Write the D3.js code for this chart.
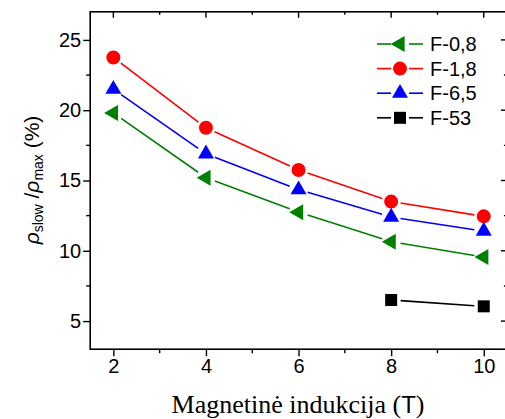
<!DOCTYPE html>
<html>
<head>
<meta charset="utf-8">
<script src="https://cdn.jsdelivr.net/npm/d3@7"></script>
<style>
  html, body { margin: 0; padding: 0; background: #fff; }
  svg { display: block; }
</style>
</head>
<body>
<svg id="chart" width="505" height="419"></svg>
<script>
// ---- data ----
const fields = [2, 4, 6, 8, 10];
const seriesNames = ["F-0,8", "F-1,8", "F-6,5", "F-53"];
const valsF08 = [19.8, 15.2, 12.75, 10.65, 9.55];
const valsF18 = [23.75, 18.75, 15.75, 13.5, 12.45];
const valsF65 = [21.5, 16.9, 14.35, 12.4, 11.4];
const fieldsF53 = [8, 10];
const valsF53 = [6.5, 6.05];
const xTicks = [2, 4, 6, 8, 10];
const yTicks = [5, 10, 15, 20, 25];

const series = [
  { name: seriesNames[0], xs: fields, ys: valsF08, color: "#008000", symbol: "left" },
  { name: seriesNames[1], xs: fields, ys: valsF18, color: "#ff0000", symbol: "circle" },
  { name: seriesNames[2], xs: fields, ys: valsF65, color: "#0000ff", symbol: "up" },
  { name: seriesNames[3], xs: fieldsF53, ys: valsF53, color: "#000000", symbol: "square" }
];

const svg = d3.select("#chart");
const x = d3.scaleLinear().domain([1.5, 10.5]).range([90.2, 506.9]);
const y = d3.scaleLinear().domain([3, 27]).range([349.2, 11.8]);

const pLeft = x.range()[0], pRight = x.range()[1];
const pTop = y.range()[1], pBottom = y.range()[0];

// frame
svg.append("rect")
  .attr("x", pLeft).attr("y", pTop)
  .attr("width", pRight - pLeft).attr("height", pBottom - pTop)
  .attr("fill", "none").attr("stroke", "#000").attr("stroke-width", 1.6);

const font = "'Liberation Sans', Arial, sans-serif";

// bottom axis
const xMinor = d3.range(3, 11, 2);
const gx = svg.append("g").attr("transform", `translate(0,${pBottom})`);
gx.call(d3.axisBottom(x).tickValues(xTicks).tickSize(7).tickPadding(3).tickFormat(d3.format("d")));
gx.select(".domain").remove();
gx.selectAll(".tick line").attr("stroke-width", 1.4);
gx.selectAll("text").attr("font-family", font).attr("font-size", 20).attr("fill", "#000");
gx.selectAll(".minor").data(xMinor).enter().append("line")
  .attr("x1", d => x(d)).attr("x2", d => x(d)).attr("y1", 0).attr("y2", 4)
  .attr("stroke", "#000").attr("stroke-width", 1.4);

// top ticks (inward)
const gxt = svg.append("g").attr("transform", `translate(0,${pTop})`);
gxt.selectAll(".maj").data(xTicks).enter().append("line")
  .attr("x1", d => x(d)).attr("x2", d => x(d)).attr("y1", 0).attr("y2", 6)
  .attr("stroke", "#000").attr("stroke-width", 1.4);
gxt.selectAll(".min").data(xMinor).enter().append("line")
  .attr("x1", d => x(d)).attr("x2", d => x(d)).attr("y1", 0).attr("y2", 3)
  .attr("stroke", "#000").attr("stroke-width", 1.4);

// left axis
const yMinor = [7.5, 12.5, 17.5, 22.5];
const gy = svg.append("g").attr("transform", `translate(${pLeft},0)`);
gy.call(d3.axisLeft(y).tickValues(yTicks).tickSize(7).tickPadding(2).tickFormat(d3.format("d")));
gy.select(".domain").remove();
gy.selectAll(".tick line").attr("stroke-width", 1.4);
gy.selectAll("text").attr("font-family", font).attr("font-size", 20).attr("fill", "#000");
gy.selectAll(".minor").data(yMinor).enter().append("line")
  .attr("x1", 0).attr("x2", -4).attr("y1", d => y(d)).attr("y2", d => y(d))
  .attr("stroke", "#000").attr("stroke-width", 1.4);

// right ticks (inward)
const gyr = svg.append("g").attr("transform", `translate(${pRight},0)`);
gyr.selectAll(".maj").data(yTicks).enter().append("line")
  .attr("x1", 0).attr("x2", -6).attr("y1", d => y(d)).attr("y2", d => y(d))
  .attr("stroke", "#000").attr("stroke-width", 1.4);
gyr.selectAll(".min").data(yMinor).enter().append("line")
  .attr("x1", 0).attr("x2", -3).attr("y1", d => y(d)).attr("y2", d => y(d))
  .attr("stroke", "#000").attr("stroke-width", 1.4);

// symbols
function symbolPath(type) {
  if (type === "circle") return d3.symbol(d3.symbolCircle, 154)();
  if (type === "square") return d3.symbol(d3.symbolSquare, 144)();
  const s = 16, h = s * Math.sqrt(3) / 2;
  if (type === "up") return `M0,${-h * 2 / 3}L${s / 2},${h / 3}L${-s / 2},${h / 3}Z`;
  if (type === "left") return `M${-h * 2 / 3},0L${h / 3},${-s / 2}L${h / 3},${s / 2}Z`;
}

const gap = 9.5;
const plot = svg.append("g");
series.forEach(s => {
  const pts = s.xs.map((d, i) => [x(d), y(s.ys[i])]);
  for (let i = 0; i < pts.length - 1; i++) {
    const [x1, y1] = pts[i], [x2, y2] = pts[i + 1];
    const L = Math.hypot(x2 - x1, y2 - y1);
    const ux = (x2 - x1) / L, uy = (y2 - y1) / L;
    plot.append("line")
      .attr("x1", x1 + ux * gap).attr("y1", y1 + uy * gap)
      .attr("x2", x2 - ux * gap).attr("y2", y2 - uy * gap)
      .attr("stroke", s.color).attr("stroke-width", 1.6);
  }
  plot.selectAll(null).data(pts).enter().append("path")
    .attr("d", symbolPath(s.symbol))
    .attr("transform", d => `translate(${d[0]},${d[1]})`)
    .attr("fill", s.color);
});

// legend
const legend = svg.append("g");
series.forEach((s, i) => {
  const ly = 44 + i * 24.6;
  const g = legend.append("g").attr("transform", `translate(0,${ly})`);
  g.append("line").attr("x1", 377).attr("x2", 391).attr("y1", 0).attr("y2", 0)
    .attr("stroke", s.color).attr("stroke-width", 1.6);
  g.append("line").attr("x1", 409).attr("x2", 423).attr("y1", 0).attr("y2", 0)
    .attr("stroke", s.color).attr("stroke-width", 1.6);
  g.append("path").attr("d", symbolPath(s.symbol))
    .attr("transform", "translate(400,0)").attr("fill", s.color);
  g.append("text").attr("x", 430).attr("y", 7)
    .attr("font-family", font).attr("font-size", 20).attr("fill", "#000")
    .text(s.name);
});

// x title
const xt = svg.append("text")
  .attr("x", 298).attr("y", 413)
  .attr("text-anchor", "middle")
  .attr("font-family", "'Liberation Serif', 'Times New Roman', serif")
  .attr("font-size", 26).attr("fill", "#000");
xt.append("tspan").text("Magnetinė indukcija (");
xt.append("tspan").attr("font-family", font).attr("font-size", 24).text("T");
xt.append("tspan").text(")");

// y title
const yt = svg.append("text")
  .attr("transform", "translate(39,180) rotate(-90)")
  .attr("text-anchor", "middle")
  .attr("font-family", font).attr("font-size", 21).attr("fill", "#000");
yt.append("tspan").attr("font-style", "italic").text("ρ");
yt.append("tspan").attr("font-size", 14).attr("dy", 4).text("slow");
yt.append("tspan").attr("dy", -4).text(" /");
yt.append("tspan").attr("font-style", "italic").text("ρ");
yt.append("tspan").attr("font-size", 14).attr("dy", 4).text("max");
yt.append("tspan").attr("dy", -4).text(" (%)");
</script>
</body>
</html>
